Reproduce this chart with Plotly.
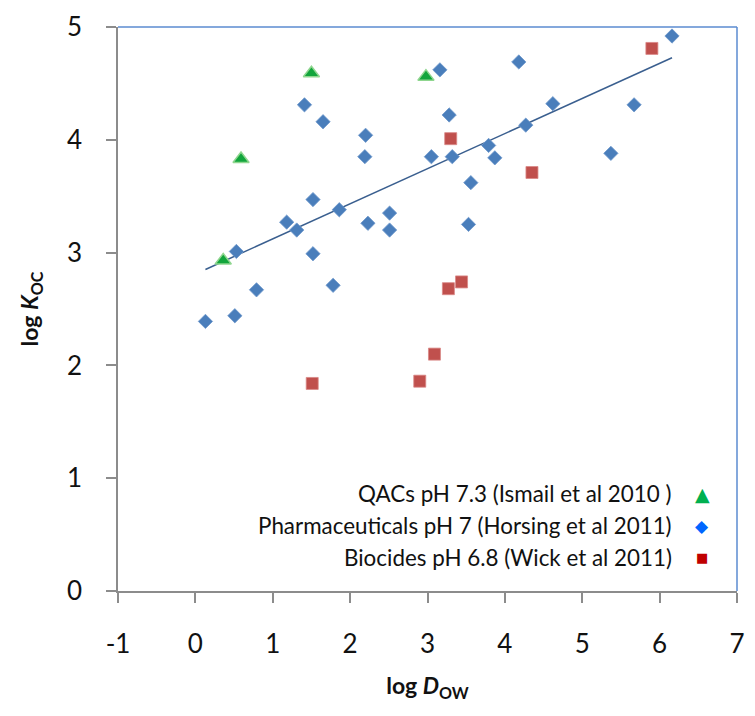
import numpy as np
import plotly.graph_objects as go

# QACs pH 7.3 (Ismail et al 2010)
qac_x = [0.36, 0.59, 1.50, 2.98]
qac_y = [2.93, 3.83, 4.59, 4.56]

# Pharmaceuticals pH 7 (Horsing et al 2011)
pharma_x = [0.13, 0.51, 0.53, 0.79, 1.18, 1.31, 1.41, 1.52, 1.52, 1.65, 1.78,
            1.86, 2.20, 2.19, 2.23, 2.51, 2.51, 3.05, 3.16, 3.28, 3.32, 3.53,
            3.56, 3.79, 3.87, 4.18, 4.27, 4.62, 5.37, 5.67, 6.16]
pharma_y = [2.39, 2.44, 3.01, 2.67, 3.27, 3.20, 4.31, 3.47, 2.99, 4.16, 2.71,
            3.38, 4.04, 3.85, 3.26, 3.35, 3.20, 3.85, 4.62, 4.22, 3.85, 3.25,
            3.62, 3.95, 3.84, 4.69, 4.13, 4.32, 3.88, 4.31, 4.92]

# Biocides pH 6.8 (Wick et al 2011)
bio_x = [1.51, 2.90, 3.09, 3.27, 3.44, 3.30, 4.35, 5.90]
bio_y = [1.84, 1.86, 2.10, 2.68, 2.74, 4.01, 3.71, 4.81]

legend_labels = ["QACs pH 7.3 (Ismail et al 2010 )",
                 "Pharmaceuticals pH 7 (Horsing et al 2011)",
                 "Biocides pH 6.8 (Wick et al 2011)"]

x_ticks = list(range(-1, 8))
y_ticks = list(range(0, 6))

FONT = "Lato"

fig = go.Figure()

# linear trendline for pharmaceuticals
slope, intercept = np.polyfit(pharma_x, pharma_y, 1)
tx = np.array([min(pharma_x), max(pharma_x)])
fig.add_trace(go.Scatter(x=tx, y=slope * tx + intercept, mode="lines",
                         line=dict(color="#3A5F8F", width=1.5),
                         showlegend=False, hoverinfo="skip"))

fig.add_trace(go.Scatter(x=pharma_x, y=pharma_y, mode="markers",
                         marker=dict(symbol="diamond", size=11, color="#4A7EBB",
                                     line=dict(color="#6E98CC", width=0.8)),
                         showlegend=False))
fig.add_trace(go.Scatter(x=bio_x, y=bio_y, mode="markers",
                         marker=dict(symbol="square", size=12, color="#C0504D",
                                     line=dict(color="#D98886", width=0.8)),
                         showlegend=False))
fig.add_trace(go.Scatter(x=qac_x, y=qac_y, mode="markers",
                         marker=dict(symbol="triangle-up", size=14, color="#12A53C",
                                     line=dict(color="#8FD68F", width=1.5)),
                         showlegend=False))

# legend as text annotations with glyphs on the right
leg_y = [0.172, 0.116, 0.060]
glyphs = [("▲", "#00B050", 19), ("◆", "#0066FF", 17), ("■", "#C00000", 13)]
for lab, yy, (g, c, s) in zip(legend_labels, leg_y, glyphs):
    fig.add_annotation(x=0.899, y=yy, xref="paper", yref="paper", text=lab,
                       showarrow=False, xanchor="right", yanchor="middle",
                       font=dict(family=FONT, size=22.4, color="#111111"))
    fig.add_annotation(x=0.944, y=yy, xref="paper", yref="paper", text=g,
                       showarrow=False, xanchor="center", yanchor="middle",
                       font=dict(family="DejaVu Sans", size=s, color=c))

# top and right blue borders
fig.add_shape(type="line", xref="x domain", yref="y domain", x0=0, x1=1, y0=1, y1=1,
              line=dict(color="#5B8BD0", width=1.5))
fig.add_shape(type="line", xref="x domain", yref="y domain", x0=1, x1=1, y0=0, y1=1,
              line=dict(color="#5B8BD0", width=1.5))

fig.update_layout(
    width=755, height=716,
    margin=dict(l=118, r=10, t=21, b=125),
    paper_bgcolor="white", plot_bgcolor="white",
    font=dict(family=FONT, size=26, color="#111111"),
    showlegend=False,
)
fig.update_xaxes(range=[-1, 7], tickvals=x_ticks, ticktext=[str(v) for v in x_ticks],
                 showgrid=False, zeroline=False, showline=True, linecolor="#8C8C8C",
                 linewidth=1.5, ticks="outside", ticklen=10, tickcolor="#8C8C8C",
                 tickwidth=1.5, ticklabelstandoff=19,
                 tickfont=dict(family=FONT, size=26, color="#111111"),
                 title=dict(text="<b>log <i>D</i><sub>OW</sub></b>", standoff=20,
                            font=dict(family=FONT, size=23)))
fig.update_yaxes(range=[0, 5], tickvals=y_ticks, ticktext=[str(v) for v in y_ticks],
                 showgrid=False, zeroline=False, showline=True, linecolor="#8C8C8C",
                 linewidth=1.5, ticks="outside", ticklen=10, tickcolor="#8C8C8C",
                 tickwidth=1.5, ticklabelstandoff=19,
                 tickfont=dict(family=FONT, size=26, color="#111111"),
                 title=dict(text="<b>log <i>K</i><sub>OC</sub></b>", standoff=22,
                            font=dict(family=FONT, size=23)))

fig.write_html("out.html", config={"displayModeBar": False},
               post_script="document.body.style.margin='0';document.body.style.overflow='hidden';")
